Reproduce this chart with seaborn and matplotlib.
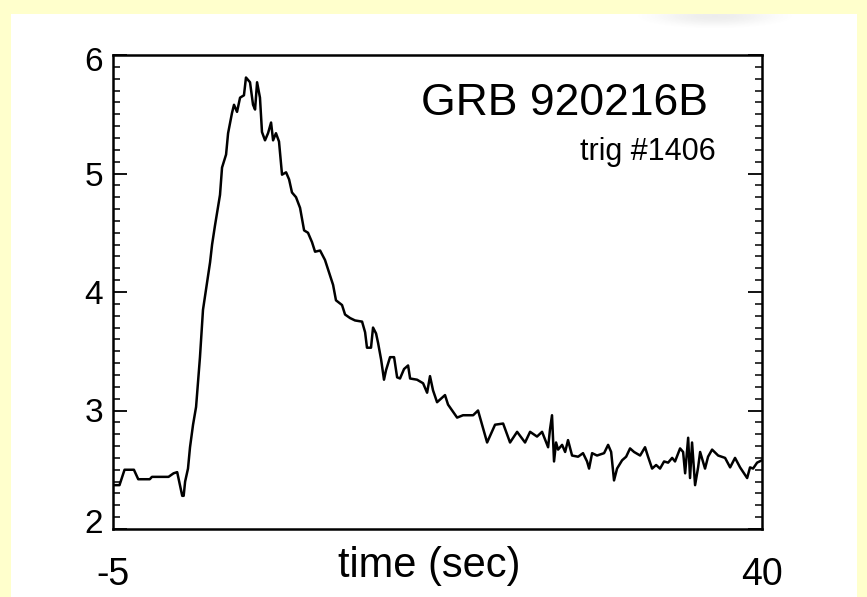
import numpy as np
import matplotlib
matplotlib.use("Agg")
import matplotlib.pyplot as plt
import matplotlib.transforms as mtransforms
import seaborn as sns
from matplotlib.patches import Rectangle
from matplotlib.ticker import MultipleLocator

# Light curve of GRB 920216B (BATSE trigger 1406)
time_s = [
    -5.00, -4.55, -4.20, -3.55, -3.25, -2.45, -2.30, -1.15, -0.80, -0.55,
    -0.20, -0.10, 0.00, 0.20, 0.34, 0.55, 0.76, 1.03, 1.24, 1.52,
    1.73, 1.87, 2.07, 2.42, 2.56, 2.84, 2.98, 3.25, 3.39, 3.60,
    3.81, 4.08, 4.22, 4.50, 4.71, 4.85, 4.99, 5.19, 5.33, 5.54,
    5.75, 5.96, 6.10, 6.30, 6.51, 6.72, 7.00, 7.21, 7.41, 7.69,
    7.97, 8.25, 8.52, 8.80, 9.01, 9.36, 9.70, 10.05, 10.26, 10.46,
    10.67, 10.88, 11.09, 11.44, 11.78, 12.27, 12.48, 12.61, 12.89, 13.03,
    13.24, 13.38, 13.59, 13.79, 13.93, 14.21, 14.49, 14.70, 14.90, 15.18,
    15.46, 15.60, 16.08, 16.50, 16.78, 16.98, 17.19, 17.47, 18.02, 18.23,
    18.86, 19.27, 19.97, 20.31, 20.94, 21.49, 22.05, 22.53, 23.02, 23.57,
    23.92, 24.40, 24.75, 25.17, 25.30, 25.44, 25.58, 25.72, 25.86, 26.14,
    26.35, 26.55, 26.83, 27.25, 27.59, 27.87, 28.01, 28.22, 28.56, 29.05,
    29.33, 29.54, 29.74, 29.95, 30.30, 30.58, 30.85, 31.13, 31.55, 31.89,
    32.10, 32.38, 32.66, 32.93, 33.21, 33.49, 33.77, 33.97, 34.32, 34.53,
    34.67, 34.88, 35.01, 35.15, 35.36, 35.57, 35.71, 36.05, 36.26, 36.54,
    36.96, 37.44, 37.79, 38.13, 38.48, 38.97, 39.17, 39.38, 39.66, 40.00,
]
rate = [
    2.37, 2.37, 2.50, 2.50, 2.42, 2.42, 2.44, 2.44, 2.47, 2.48,
    2.28, 2.28, 2.40, 2.51, 2.69, 2.88, 3.03, 3.45, 3.85, 4.08,
    4.25, 4.40, 4.56, 4.82, 5.05, 5.16, 5.34, 5.51, 5.58, 5.52,
    5.64, 5.66, 5.81, 5.77, 5.58, 5.54, 5.77, 5.64, 5.35, 5.28,
    5.34, 5.43, 5.28, 5.34, 5.27, 4.99, 5.01, 4.95, 4.84, 4.80,
    4.71, 4.52, 4.50, 4.42, 4.34, 4.35, 4.27, 4.14, 4.06, 3.93,
    3.91, 3.89, 3.81, 3.78, 3.76, 3.75, 3.66, 3.53, 3.53, 3.70,
    3.65, 3.57, 3.43, 3.26, 3.34, 3.45, 3.45, 3.28, 3.27, 3.35,
    3.38, 3.27, 3.26, 3.23, 3.15, 3.29, 3.17, 3.07, 3.13, 3.05,
    2.94, 2.96, 2.96, 3.00, 2.73, 2.88, 2.89, 2.73, 2.82, 2.73,
    2.82, 2.78, 2.82, 2.69, 2.84, 2.96, 2.57, 2.73, 2.67, 2.71,
    2.65, 2.75, 2.62, 2.61, 2.64, 2.57, 2.51, 2.64, 2.62, 2.64,
    2.71, 2.65, 2.41, 2.51, 2.58, 2.61, 2.68, 2.65, 2.62, 2.69,
    2.61, 2.51, 2.54, 2.51, 2.57, 2.56, 2.60, 2.57, 2.68, 2.65,
    2.47, 2.77, 2.43, 2.73, 2.37, 2.52, 2.65, 2.51, 2.61, 2.67,
    2.62, 2.60, 2.52, 2.60, 2.52, 2.43, 2.52, 2.51, 2.56, 2.58,
]
x_ticks = [-5, 40]
x_tick_labels = ["-5", "40"]
y_ticks = [2, 3, 4, 5, 6]
y_tick_labels = ["2", "3", "4", "5", "6"]

sns.set_theme(style="white")
plt.rcParams["font.family"] = ["Liberation Sans", "DejaVu Sans"]
plt.rcParams.update({
    "text.color": "black",
    "axes.labelcolor": "black",
    "xtick.color": "black",
    "ytick.color": "black",
})

W, H = 867, 597
fig = plt.figure(figsize=(W / 100, H / 100), dpi=100)
fig.patch.set_facecolor("#ffffcc")
fig.add_artist(Rectangle((11 / W, 0), (857 - 11) / W, (H - 14) / H,
                         transform=fig.transFigure, facecolor="white",
                         edgecolor="none", zorder=0))

# faint grey glow near the top edge of the white panel
glow = fig.add_axes([630 / W, (H - 45) / H, 170 / W, 31 / H], zorder=0.5)
gx, gy = np.meshgrid(np.linspace(-1, 1, 170), np.linspace(-1, 1, 31))
alpha = np.clip(1 - (gx ** 2 + (gy + 0.9) ** 2 * 1.2), 0, 1) ** 2 * 0.13
rgba = np.zeros((31, 170, 4))
rgba[..., :3] = 0.45
rgba[..., 3] = alpha
glow.imshow(rgba, aspect="auto", interpolation="bilinear")
glow.axis("off")

ax = fig.add_axes([113 / W, 68 / H, 649 / W, 474 / H])
ax.set_facecolor("white")

sns.lineplot(x=time_s, y=rate, ax=ax, color="black", linewidth=1.8,
             sort=False, estimator=None)

ax.set_xlim(-5, 40)
ax.set_ylim(2, 6)
ax.set_xticks(x_ticks, labels=x_tick_labels, fontsize=27)
ax.set_yticks(y_ticks, labels=y_tick_labels, fontsize=24)
ax.yaxis.set_minor_locator(MultipleLocator(0.1))

ax.tick_params(axis="x", length=0, pad=20)
ax.tick_params(axis="y", which="major", direction="in", length=10, width=1.3,
               left=True, right=True, pad=7)
ax.tick_params(axis="y", which="minor", direction="in", length=5, width=1.1,
               left=True, right=True)

# pull the end labels slightly inside the frame
ylabels = ax.get_yticklabels()
for lab, dy in ((ylabels[0], 8), (ylabels[-1], -4)):
    lab.set_transform(lab.get_transform() +
                      mtransforms.ScaledTranslation(0, dy / 100, fig.dpi_scale_trans))

for spine in ax.spines.values():
    spine.set_visible(True)
    spine.set_color("black")
    spine.set_linewidth(1.8)

ax.set_xlabel("time (sec)", fontsize=30, va="top")
ax.xaxis.set_label_coords(0.487, -0.035)

ax.text(0.917, 0.873, "GRB 920216B", transform=ax.transAxes, ha="right",
        va="baseline", fontsize=32)
ax.text(0.928, 0.778, "trig #1406", transform=ax.transAxes, ha="right",
        va="baseline", fontsize=22)

fig.savefig("out.png", dpi=100, facecolor=fig.get_facecolor())
